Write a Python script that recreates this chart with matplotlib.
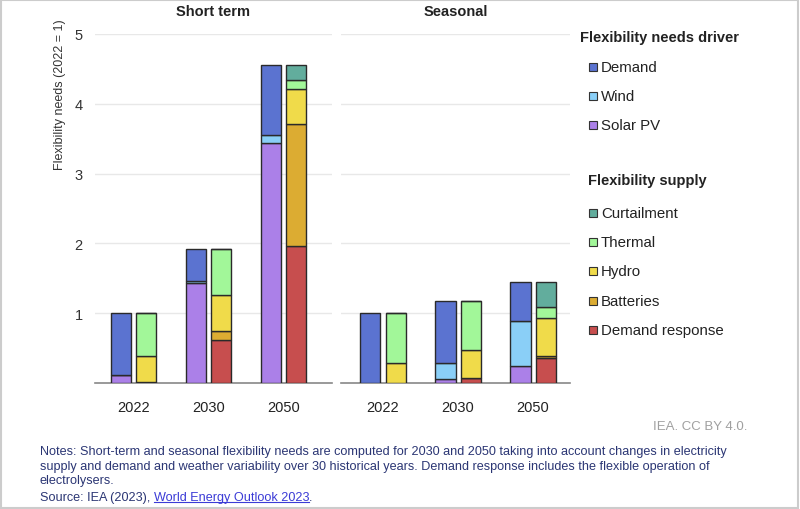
import numpy as np
import matplotlib.pyplot as plt
from matplotlib.patches import Rectangle

plt.rcParams['font.family'] = ['Liberation Sans', 'DejaVu Sans']

years = ["2022", "2030", "2050"]
panels = ["Short term", "Seasonal"]

driver_names = ["Solar PV", "Wind", "Demand"]
supply_names = ["Demand response", "Batteries", "Hydro", "Thermal", "Curtailment"]

# short term, per year (2022, 2030, 2050)
st_solar = [0.12, 1.43, 3.44]
st_wind = [0.00, 0.03, 0.12]
st_demand = [0.88, 0.46, 0.99]
st_dr = [0.01, 0.61, 1.96]
st_batt = [0.00, 0.13, 1.75]
st_hydro = [0.37, 0.52, 0.50]
st_thermal = [0.62, 0.66, 0.13]
st_curt = [0.00, 0.00, 0.21]

# seasonal
se_solar = [0.00, 0.06, 0.24]
se_wind = [0.00, 0.23, 0.65]
se_demand = [1.00, 0.885, 0.557]
se_dr = [0.00, 0.07, 0.36]
se_batt = [0.00, 0.00, 0.02]
se_hydro = [0.28, 0.40, 0.55]
se_thermal = [0.72, 0.70, 0.16]
se_curt = [0.00, 0.005, 0.357]

colors = {
    "Demand": "#5b73d0", "Wind": "#8acff7", "Solar PV": "#ab80e8",
    "Curtailment": "#62ad9d", "Thermal": "#a2f799", "Hydro": "#f0db4a",
    "Batteries": "#dcac32", "Demand response": "#c74e4e",
}

data = [
    ([st_solar, st_wind, st_demand], [st_dr, st_batt, st_hydro, st_thermal, st_curt]),
    ([se_solar, se_wind, se_demand], [se_dr, se_batt, se_hydro, se_thermal, se_curt]),
]

fig = plt.figure(figsize=(8, 5.1), dpi=100)
W, H = 800, 510

def px_axes(x0, x1, ytop, ybot):
    return fig.add_axes([x0 / W, 1 - ybot / H, (x1 - x0) / W, (ybot - ytop) / H])

ax1 = px_axes(95, 331.7, 35, 384)
ax2 = px_axes(341, 570, 35, 384)
axes = [ax1, ax2]
xlims = [(-0.513, 2.643), (-0.56, 2.493)]

x = np.arange(len(years))
bw = 0.267
off = 0.167

for i, ax in enumerate(axes):
    drivers, supply = data[i]
    bottom = np.zeros(len(years))
    for name, vals in zip(driver_names, drivers):
        ax.bar(x - off, vals, bw, bottom=bottom, color=colors[name],
               edgecolor="#2a2a2a", linewidth=1.0, zorder=3)
        bottom += np.array(vals)
    bottom = np.zeros(len(years))
    for name, vals in zip(supply_names, supply):
        ax.bar(x + off, vals, bw, bottom=bottom, color=colors[name],
               edgecolor="#2a2a2a", linewidth=1.0, zorder=3)
        bottom += np.array(vals)

    ax.set_xlim(*xlims[i])
    ax.set_ylim(0, 5)
    ax.set_yticks([1, 2, 3, 4, 5])
    ax.grid(axis="y", color="#e8e8e8", linewidth=1.0, zorder=0)
    for s in ["top", "right", "left"]:
        ax.spines[s].set_visible(False)
    ax.spines["bottom"].set_color("#888888")
    ax.spines["bottom"].set_linewidth(1.2)
    ax.set_xticks(x)
    ax.set_xticklabels(years, fontsize=10.5, color="#222222")
    ax.tick_params(axis="x", length=0, pad=12)
    ax.tick_params(axis="y", length=0, labelsize=10.5, labelcolor="#333333", pad=9)
    ax.set_title(panels[i], fontsize=10.5, fontweight="bold", color="#222222", pad=14)
    if i == 1:
        ax.tick_params(axis="y", labelleft=False)

fig.text(60 / W, 1 - 95 / H, "Flexibility needs (2022 = 1)", rotation=90,
         ha="center", va="center", fontsize=9, color="#333333")

# legend
legend_groups = [
    ("Flexibility needs driver", 580, 38, ["Demand", "Wind", "Solar PV"], [68, 97, 126]),
    ("Flexibility supply", 588, 181, ["Curtailment", "Thermal", "Hydro", "Batteries", "Demand response"],
     [214, 243, 272, 302, 331]),
]
for title, tx, ty, names, ys in legend_groups:
    fig.text(tx / W, 1 - ty / H, title, fontsize=10.5, fontweight="bold",
             color="#222222", va="center", ha="left")
    for name, yy in zip(names, ys):
        fig.patches.append(Rectangle((589 / W, 1 - (yy + 4) / H), 8 / W, 8 / H,
                                     transform=fig.transFigure, facecolor=colors[name],
                                     edgecolor="#333333", linewidth=0.8))
        fig.text(601 / W, 1 - yy / H, name, fontsize=10.8, color="#222222",
                 va="center", ha="left")

fig.text(747 / W, 1 - 427 / H, "IEA. CC BY 4.0.", fontsize=9.5, color="#a0a0a0",
         ha="right", va="center")

note_color = "#2b3674"
notes = ("Notes: Short-term and seasonal flexibility needs are computed for 2030 and 2050 taking into account changes in electricity\n"
         "supply and demand and weather variability over 30 historical years. Demand response includes the flexible operation of\n"
         "electrolysers.")
fig.text(40 / W, 1 - 446 / H, notes, fontsize=9.1, color=note_color, ha="left", va="top",
         linespacing=1.3)
t1 = fig.text(40 / W, 1 - 498 / H, "Source: IEA (2023), ", fontsize=9.1, color=note_color,
              ha="left", va="center")
fig.canvas.draw()
r = fig.canvas.get_renderer()
bb = t1.get_window_extent(renderer=r)
x_link = bb.x1 / W
t2 = fig.text(x_link, 1 - 498 / H, "World Energy Outlook 2023", fontsize=9.1, color="#3b3bd6",
              ha="left", va="center")
bb2 = t2.get_window_extent(renderer=r)
fig.add_artist(plt.Line2D([bb2.x0 / W, bb2.x1 / W], [(bb2.y0 + 1) / H, (bb2.y0 + 1) / H],
                          transform=fig.transFigure, color="#3b3bd6", linewidth=0.8))
fig.text(bb2.x1 / W, 1 - 498 / H, ".", fontsize=9.1, color=note_color, ha="left", va="center")

# frame
fig.patches.append(Rectangle((0.001, 0.001), 0.997, 0.997, transform=fig.transFigure,
                             fill=False, edgecolor="#cccccc", linewidth=1.5))

fig.savefig("out.png", dpi=100)
